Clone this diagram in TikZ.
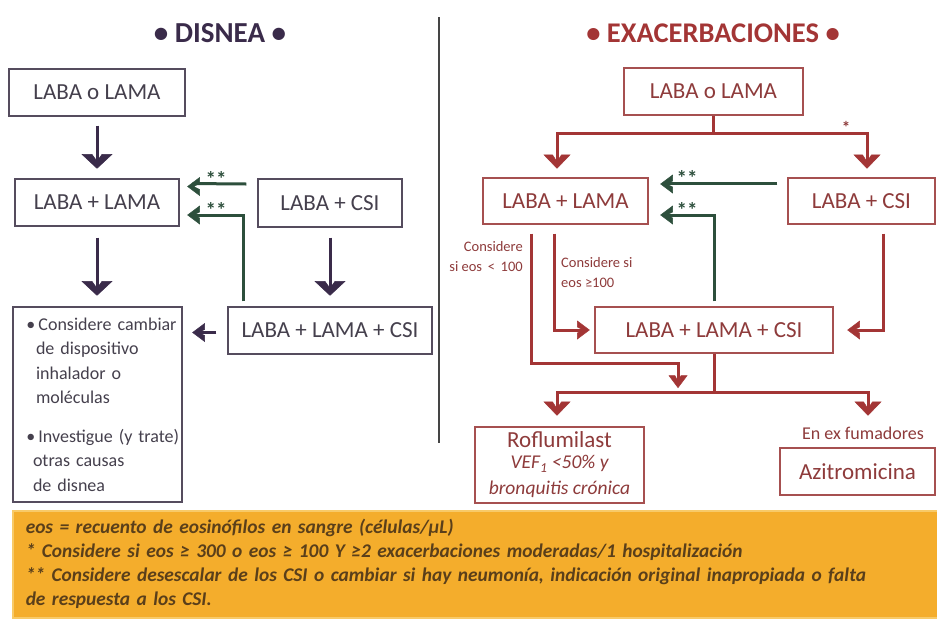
\documentclass[tikz,border=0pt]{standalone}
\usepackage{fontspec}
\setmainfont{Carlito}
\usetikzlibrary{calc}
\definecolor{purp}{HTML}{3A2B4A}
\definecolor{purpbox}{HTML}{554C5E}
\definecolor{purptext}{HTML}{45404D}
\definecolor{grn}{HTML}{2D4F3C}
\definecolor{rd}{HTML}{A33535}
\definecolor{rdbox}{HTML}{A65050}
\definecolor{rdtext}{HTML}{8E3B3B}
\definecolor{orng}{HTML}{F4AD2C}
\definecolor{orngl}{HTML}{F8CA68}
\definecolor{ftext}{HTML}{5A3F1A}
\definecolor{divc}{HTML}{454545}
\tikzset{
  chevP/.pic={\filldraw[line width=0.5pt, line join=miter] (0,0) -- (-14,15) -- (-14,5) -- (-7,0) -- (-14,-5) -- (-14,-15) -- cycle;},
  chevB/.pic={\filldraw[line width=0.5pt, line join=miter] (0,0) -- (-13.5,13) -- (-13.5,4.5) -- (-6.5,0) -- (-13.5,-4.5) -- (-13.5,-13) -- cycle;},
  chevS/.pic={\filldraw[line width=0.5pt, line join=miter] (0,0) -- (-12,9) -- (-12,3) -- (-6,0) -- (-12,-3) -- (-12,-9) -- cycle;},
  lbox/.style={draw=purpbox, line width=1.3pt, text=purptext, font=\fontsize{23}{27}\selectfont, inner sep=0pt},
  rbox/.style={draw=rdbox, line width=1.3pt, text=rdtext, font=\fontsize{23}{27}\selectfont, inner sep=0pt},
  pline/.style={draw=purp, line width=3pt, shorten >=6pt},
  psline/.style={draw=purp, line width=3pt, shorten >=5pt},
  gline/.style={draw=grn, line width=3pt, shorten >=5pt},
  rline/.style={draw=rd, line width=3pt},
  rbline/.style={draw=rd, line width=3pt, shorten >=5.5pt},
  rsline/.style={draw=rd, line width=3pt, shorten >=5pt},
  gstar/.style={text=grn, font=\bfseries\fontsize{21}{21}\selectfont, inner sep=0pt},
  rlabel/.style={text=rdtext, font=\fontsize{14.5}{20}\selectfont, inner sep=0pt},
}
\begin{document}
\begin{tikzpicture}[x=1pt,y=-1pt]
\fill[white] (0,0) rectangle (937,619);
\useasboundingbox (0,0) rectangle (937,619);
% titles
\node[text=purp, font=\bfseries\fontsize{29}{34}\selectfont] (T1) at (220,33) {\textbullet\ DISNEA \textbullet};
\node[text=rd, font=\bfseries\fontsize{28.5}{34}\selectfont] (T2) at (713,33) {\textbullet\ EXACERBACIONES \textbullet};
% divider
\draw[divc, line width=2.5pt] (439,17) -- (439,443);
% left boxes
\node[lbox, minimum width=176pt, minimum height=47pt] (A1) at (97,92.5) {LABA o LAMA};
\node[lbox, minimum width=164pt, minimum height=47pt] (A2) at (97,202.5) {LABA + LAMA};
\node[lbox, minimum width=144pt, minimum height=48pt] (A3) at (330,203) {LABA + CSI};
\node[lbox, minimum width=169pt, minimum height=195pt, align=left, text width=166pt, inner xsep=1.5pt,
  font=\fontsize{18}{24.5}\selectfont] (A4) at (97.5,404.5)
  {\mbox{\hspace*{12pt}\textbullet\hspace{3pt}Considere cambiar}\\
   \mbox{\hspace*{21.5pt}de dispositivo}\\
   \mbox{\hspace*{21.5pt}inhalador o}\\
   \mbox{\hspace*{21.5pt}moléculas}\\[14pt]
   \mbox{\hspace*{12pt}\textbullet\hspace{3pt}Investigue (y trate)}\\
   \mbox{\hspace*{18.5pt}otras causas}\\
   \mbox{\hspace*{18.5pt}de disnea}};
\node[lbox, minimum width=204pt, minimum height=47pt] (A5) at (330,330.5) {LABA + LAMA + CSI};
% right boxes
\node[rbox, minimum width=179pt, minimum height=47pt] (B1) at (713.5,91.5) {LABA o LAMA};
\node[rbox, minimum width=165pt, minimum height=46pt] (B2) at (565.5,201) {LABA + LAMA};
\node[rbox, minimum width=147pt, minimum height=46pt] (B3) at (861.5,201) {LABA + CSI};
\node[rbox, minimum width=238pt, minimum height=46pt] (B4) at (714,330) {LABA + LAMA + CSI};
\node[rbox, minimum width=169pt, minimum height=76pt, align=center] (B5) at (559.5,465)
  {Roflumilast\\[-6pt]
   {\itshape\fontsize{19.5}{19}\selectfont VEF\textsubscript{1} <50\% y}\\[-1pt]
   {\itshape\fontsize{19.5}{19}\selectfont bronquitis crónica}};
\node[rbox, minimum width=155pt, minimum height=47pt] (B6) at (857.5,471.5) {Azitromicina};
% arrow tip points
\coordinate (c1) at ($(A2.north)+(0,-10)$);
\coordinate (c2) at ($(A2.south |- A4.north)+(0,-11)$);
\coordinate (c3) at ($(A5.north)+(0,-11)$);
\coordinate (c4) at ($(A4.east |- A5.west)+(10,2)$);
\coordinate (g1) at ($(A2.east)+(8,-16)$);
\coordinate (g2) at ($(A2.east)+(8,12.5)$);
\coordinate (r1) at ($(B2.north)+(-8.5,-9)$);
\coordinate (r2) at ($(B3.north)+(5.5,-9)$);
\coordinate (g3) at ($(B2.east)+(12,-17)$);
\coordinate (g4) at ($(B2.east)+(12,14)$);
\coordinate (r3) at ($(B4.south)+(-36,34)$);
\coordinate (r4) at ($(B4.west)+(-5,0)$);
\coordinate (r5) at ($(B4.east)+(14,0)$);
\coordinate (r6) at ($(B5.north)+(-2.5,-11)$);
\coordinate (r7) at ($(B6.north)+(10.5,-32)$);
% left connectors
\draw[pline] ($(A1.south)+(0,9)$) -- (c1);
\pic[purp, rotate=-90] at (c1) {chevP};
\draw[pline] ($(A2.south)+(0,11)$) -- (c2);
\pic[purp, rotate=-90] at (c2) {chevP};
\draw[pline] ($(A3.south)+(0,10)$) -- (c3);
\pic[purp, rotate=-90] at (c3) {chevP};
\draw[psline] ($(A5.west)+(-11,2)$) -- (c4);
\pic[purp, rotate=180] at (c4) {chevS};
\draw[gline] ($(A3.west)+(-11,-19)$) -- ($(g1)+(0,-3)$);
\pic[grn, rotate=180] at (g1) {chevS};
\draw[gline] ($(A5.north)+(-87,-5)$) |- (g2);
\pic[grn, rotate=180] at (g2) {chevS};
\node[gstar] (S1) at (216,179) {**};
\node[gstar] (S2) at (216,210) {**};
% right connectors
\draw[rline] (B1.south) -- ++(0,18) coordinate (bj);
\draw[rbline] (bj) -| (r1);
\pic[rd, rotate=-90] at (r1) {chevB};
\draw[rbline] (bj) -| (r2);
\pic[rd, rotate=-90] at (r2) {chevB};
\node[text=rdtext, font=\bfseries\fontsize{17}{17}\selectfont, inner sep=0pt] (S0) at (846,127) {*};
\draw[gline] ($(B3.west)+(-10,-18)$) -- ($(g3)+(0,-1)$);
\pic[grn, rotate=180] at (g3) {chevS};
\draw[gline] ($(B4.north)+(0,-5)$) |- (g4);
\pic[grn, rotate=180] at (g4) {chevS};
\node[gstar] (S3) at (687,178) {**};
\node[gstar] (S4) at (687,210) {**};
\draw[rsline] ($(B2.south)+(-34.5,9)$) |- ($(B4.south)+(-36,10)$) -- (r3);
\pic[rd, rotate=-90] at (r3) {chevS};
\draw[rsline] ($(B2.south)+(-11.5,9)$) |- (r4);
\pic[rd] at (r4) {chevS};
\draw[rsline] ($(B3.south)+(21.5,9)$) |- (r5);
\pic[rd, rotate=180] at (r5) {chevS};
\draw[rline] (B4.south) -- ++(0,39) coordinate (bj2);
\draw[rbline] (bj2) -| (r6);
\pic[rd, rotate=-90] at (r6) {chevB};
\draw[rbline] (bj2) -| (r7);
\pic[rd, rotate=-90] at (r7) {chevB};
\node[rlabel, anchor=east, align=right] (L1) at (523,257) {Considere\\si eos \,<\, 100};
\node[rlabel, anchor=west, align=left] (L2) at (561,272.5) {Considere si\\eos ≥100};
\node[text=rdtext, font=\fontsize{18}{18}\selectfont, inner sep=0pt] (L3) at (863,433) {En ex fumadores};
% footnote box
\node[fill=orng, draw=orngl, line width=1.5pt, anchor=north west, minimum width=925pt, minimum height=107pt, text width=905pt,
  inner xsep=10pt, inner ysep=0pt, align=left, text=ftext,
  font=\bfseries\itshape\fontsize{19.4}{24}\selectfont] (F) at (12,510)
  {\hspace*{3pt}eos = recuento de eosinófilos en sangre (células/µL)\\
   {}\hspace*{3pt}* Considere si eos ≥ 300 o eos ≥ 100 Y ≥2 exacerbaciones moderadas/1 hospitalización\\
   {}\hspace*{3pt}** Considere desescalar de los CSI o cambiar si hay neumonía, indicación original inapropiada o falta\\
   {}\hspace*{3pt}de respuesta a los CSI.\\[3pt]};
\end{tikzpicture}
\end{document}
